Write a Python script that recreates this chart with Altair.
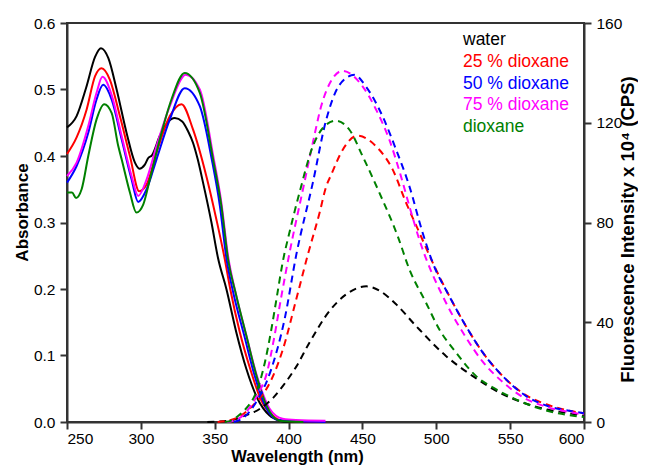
import altair as alt
import pandas as pd

SERIES = ["water", "25 % dioxane", "50 % dioxane", "75 % dioxane", "dioxane"]
COLORS = ["#000000", "#ff0000", "#0000ff", "#ff00ff", "#008000"]

X_TICKS = [250, 300, 350, 400, 450, 500, 550, 600]
ABS_TICKS = [0.0, 0.1, 0.2, 0.3, 0.4, 0.5, 0.6]
FL_TICKS = [0, 40, 80, 120, 160]

# ---- absorbance (solid) ----
abs_wl_water = [250, 256.5, 263, 269, 273, 278, 283.6, 290.3, 296, 299, 302.7, 305, 307.5, 312.8, 318, 323, 328, 332, 335.3, 338.5, 342.1, 347.8, 352.2, 357.9, 364.6, 371.4, 379, 387, 394, 400, 425]
abs_water = [0.443, 0.460, 0.503, 0.549, 0.562, 0.547, 0.500, 0.435, 0.390, 0.381, 0.387, 0.397, 0.401, 0.430, 0.450, 0.457, 0.452, 0.437, 0.420, 0.395, 0.360, 0.300, 0.247, 0.200, 0.135, 0.080, 0.035, 0.010, 0.002, 0.0, 0.0]

abs_wl_25 = [250, 256.5, 263.3, 269, 273.4, 279, 285.8, 292.6, 298.9, 303.9, 310.6, 319.6, 327.5, 335.3, 344.3, 351.1, 356.8, 360.5, 367, 374, 381, 389, 396, 425]
abs_25 = [0.403, 0.428, 0.470, 0.520, 0.532, 0.515, 0.460, 0.400, 0.347, 0.357, 0.405, 0.460, 0.478, 0.440, 0.370, 0.305, 0.245, 0.200, 0.135, 0.080, 0.035, 0.010, 0.002, 0.0]

abs_wl_50 = [250, 256.5, 264.4, 270, 274.5, 280.2, 287, 293.7, 298.2, 303.9, 310.6, 319.6, 329.7, 339.9, 348, 353.5, 358, 362.5, 370, 377, 384, 393, 425]
abs_50 = [0.360, 0.385, 0.435, 0.485, 0.507, 0.485, 0.425, 0.365, 0.331, 0.350, 0.395, 0.455, 0.502, 0.475, 0.395, 0.325, 0.245, 0.195, 0.130, 0.070, 0.025, 0.003, 0.0]

abs_wl_75 = [250, 256.5, 264.4, 270, 274, 280.2, 287, 293.7, 298.2, 303.9, 310.6, 319.6, 330.4, 339.9, 349, 354.5, 359, 364.6, 371.4, 378.2, 387.2, 396, 405, 425]
abs_75 = [0.370, 0.390, 0.445, 0.495, 0.519, 0.492, 0.430, 0.370, 0.340, 0.365, 0.415, 0.475, 0.522, 0.500, 0.400, 0.330, 0.250, 0.190, 0.130, 0.072, 0.020, 0.005, 0.003, 0.002]

abs_wl_diox = [250, 253.4, 256.1, 259.9, 264.4, 270, 275.2, 280.2, 284.7, 287, 292.6, 297, 301.6, 306.1, 312.8, 320.7, 329.7, 339.9, 348.9, 354.5, 359, 364.6, 371.4, 378.2, 385, 394, 410]
abs_diox = [0.345, 0.345, 0.337, 0.350, 0.400, 0.455, 0.478, 0.465, 0.415, 0.395, 0.345, 0.315, 0.327, 0.365, 0.425, 0.485, 0.525, 0.495, 0.395, 0.325, 0.245, 0.190, 0.130, 0.070, 0.025, 0.002, 0.0]

# ---- fluorescence (dashed) ----
fl_wl_water = [345, 360, 370, 380.4, 390, 396.2, 405, 414.2, 427.7, 439, 452.7, 462, 472.8, 486.3, 506.5, 524.5, 544.8, 558.3, 575, 590, 600]
fl_water = [0, 0.5, 2.5, 5.2, 10, 14.5, 22, 31.9, 44.5, 51.2, 54.4, 52.5, 47.2, 38.5, 26.5, 18.5, 11.2, 7.9, 5, 3.5, 2.5]

fl_wl_25 = [352, 362, 370, 378, 385, 396.2, 405.2, 413, 421, 425.5, 428.9, 436.7, 446.6, 459.3, 470.5, 479.5, 488.5, 497.5, 508.8, 520, 531.3, 544.8, 560.6, 575, 590, 600]
fl_25 = [0, 1, 3.5, 8, 13.2, 29.2, 49.2, 67, 83.9, 94.5, 99.2, 109.2, 114.8, 110.5, 101.2, 88, 76, 64, 50.5, 38.5, 28, 18.5, 10.8, 7, 4.5, 3.5]

fl_wl_50 = [363, 370, 378, 388.3, 397.3, 405.2, 416.4, 425.4, 434.5, 444.6, 452.4, 463.7, 472.8, 481.8, 490.7, 497.5, 508.8, 520, 531.3, 544.8, 560.6, 575, 590, 600]
fl_50 = [0, 2, 7.9, 21.2, 41.2, 67, 95.9, 121, 135.2, 139.2, 134.5, 122.5, 109.2, 94.5, 76, 64, 50.5, 38.5, 28, 18.5, 10.5, 6.5, 4.5, 3.5]

fl_wl_75 = [358, 364, 369, 375, 380, 385, 390, 395, 400.7, 409.7, 416.4, 422, 430, 436.5, 450.2, 459.3, 468.2, 476.1, 481.8, 488.5, 506.5, 520, 531, 545, 560, 575, 590, 600]
fl_75 = [0, 0.8, 2.5, 7, 12, 19, 33, 50, 68, 93.2, 111.9, 126.5, 137.9, 140.8, 134.5, 125.2, 113.2, 98.5, 86.5, 73.2, 47.9, 34, 24.5, 16, 9.5, 6, 4, 3]

fl_wl_diox = [357, 362, 367, 372, 377, 381, 384, 388.3, 392, 396, 401, 407.4, 416.4, 423.2, 432, 441.2, 450.2, 461.5, 473.9, 481.8, 493, 502, 513.3, 526.8, 540.3, 556, 575, 600]
fl_diox = [0, 0.8, 3, 6, 10.5, 17, 24, 37, 50, 64, 77, 92, 110.5, 117.9, 120.8, 117.2, 106.5, 91.9, 74.5, 61.2, 47.9, 37.2, 27.9, 18.5, 13.2, 8.5, 4.5, 2]

abs_sets = [(abs_wl_water, abs_water), (abs_wl_25, abs_25), (abs_wl_50, abs_50),
            (abs_wl_75, abs_75), (abs_wl_diox, abs_diox)]
fl_sets = [(fl_wl_water, fl_water), (fl_wl_25, fl_25), (fl_wl_50, fl_50),
           (fl_wl_75, fl_75), (fl_wl_diox, fl_diox)]

abs_rows, fl_rows = [], []
for name, (w, v) in zip(SERIES, abs_sets):
    abs_rows += [{"series": name, "wl": a, "val": b} for a, b in zip(w, v)]
for name, (w, v) in zip(SERIES, fl_sets):
    fl_rows += [{"series": name, "wl": a, "val": b} for a, b in zip(w, v)]
abs_df = pd.DataFrame(abs_rows)
fl_df = pd.DataFrame(fl_rows)
leg_df = pd.DataFrame({"series": SERIES, "i": list(range(len(SERIES)))})

FONT = "Liberation Sans"
color = alt.Color("series:N", scale=alt.Scale(domain=SERIES, range=COLORS), legend=None)

x_enc = alt.X("wl:Q", scale=alt.Scale(domain=[250, 600], nice=False, zero=False),
              axis=alt.Axis(values=X_TICKS, title="Wavelength (nm)", labelPadding=2,
                            titleFontSize=16.5,
                            titleX=230, titleY=39, titleBaseline="alphabetic",
                            titleAlign="center"))

abs_layer = alt.Chart(abs_df).mark_line(strokeWidth=2, interpolate="monotone").encode(
    x=x_enc,
    y=alt.Y("val:Q", scale=alt.Scale(domain=[0, 0.6], nice=False),
            axis=alt.Axis(values=ABS_TICKS, format=".1f", title="Absorbance",
                          titleFontSize=17,
                          labelPadding=5, titleAngle=270, titleX=-40, titleY=189,
                          titleBaseline="alphabetic", titleAlign="center")),
    color=color,
)

fl_layer = alt.Chart(fl_df).mark_line(strokeWidth=2, strokeDash=[7, 5], interpolate="monotone").encode(
    x=alt.X("wl:Q"),
    y=alt.Y("val:Q", scale=alt.Scale(domain=[0, 160], nice=False),
            axis=alt.Axis(orient="right", values=FL_TICKS,
                          title="Fluorescence Intensity x 10\u2074 (CPS)",
                          titleFontSize=18.5,
                          labelPadding=5, titleAngle=270, titleX=49, titleY=206,
                          titleBaseline="alphabetic", titleAlign="center")),
    color=color,
)

leg_layer = alt.Chart(leg_df).mark_text(align="left", baseline="alphabetic",
                                        font=FONT, fontSize=17.5).encode(
    x=alt.value(396),
    y=alt.Y("i:Q", scale=alt.Scale(domain=[0, 4], range=[22, 109]), axis=None),
    text="series:N",
    color=color,
)

chart = alt.layer(abs_layer, fl_layer, leg_layer).resolve_scale(
    y="independent"
).properties(
    width=517, height=399,
    autosize=alt.AutoSizeParams(type="none"),
    padding={"left": 59, "top": 15, "right": 54, "bottom": 43},
    background="white",
).configure_view(
    stroke="#333", strokeWidth=2
).configure_axis(
    grid=False, labelFont=FONT, labelFontSize=15.5, labelColor="black",
    titleFont=FONT, titleFontWeight="bold", titleColor="black",
    domainColor="#333", domainWidth=2, tickColor="#333", tickWidth=2, tickSize=7,
)

chart.save("out.html", embed_options={"renderer": "svg", "actions": False})
